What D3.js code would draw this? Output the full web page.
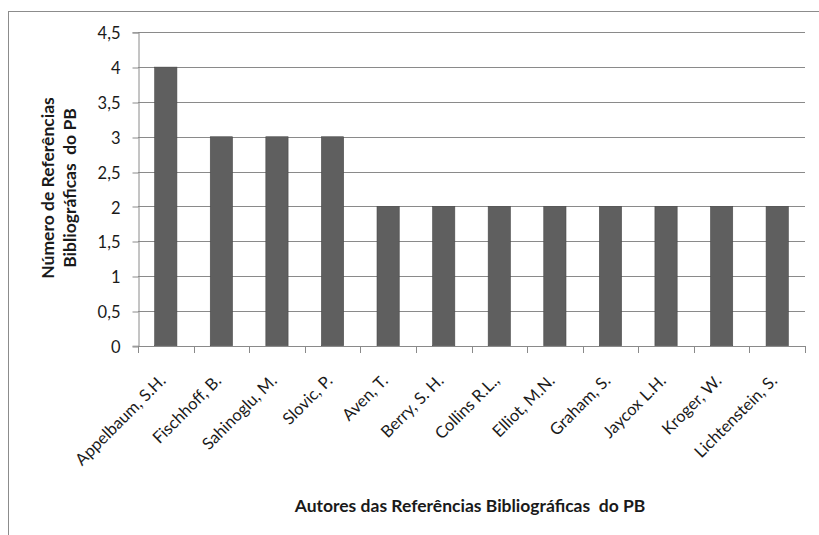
<!DOCTYPE html>
<html>
<head>
<meta charset="utf-8">
<script src="https://cdn.jsdelivr.net/npm/d3@7"></script>
<style>
  html, body { margin: 0; padding: 0; background: #fff; }
  svg { display: block; }
  text { font-family: Lato, "Open Sans", sans-serif; fill: #1a1a1a; white-space: pre; }
</style>
</head>
<body>
<svg id="chart" width="819" height="535"></svg>
<script>
// Authors and their number of bibliographic references
const authors = [
  "Appelbaum, S.H.", "Fischhoff, B.", "Sahinoglu, M.", "Slovic, P.",
  "Aven, T.", "Berry, S. H.", "Collins R.L.,", "Elliot, M.N.",
  "Graham, S.", "Jaycox L.H.", "Kroger, W.", "Lichtenstein, S."
];
const refCounts = [4, 3, 3, 3, 2, 2, 2, 2, 2, 2, 2, 2];
const yTicks = [0, 0.5, 1, 1.5, 2, 2.5, 3, 3.5, 4, 4.5];
const yTitleLines = ["Número de Referências", "Bibliográficas  do PB"];
const xTitle = "Autores das Referências Bibliográficas  do PB";

const svg = d3.select("#chart");
const plot = { left: 138, right: 805, top: 32.3, bottom: 345.7 };
const gridColor = "#8a8a8a";

// chart frame
svg.append("rect")
  .attr("x", 8.5).attr("y", 11.5)
  .attr("width", 900).attr("height", 700)
  .attr("fill", "#fff")
  .attr("stroke", "#8c8c8c").attr("stroke-width", 1);

const x = d3.scaleBand()
  .domain(authors)
  .range([plot.left, plot.right])
  .paddingInner(0.6)
  .paddingOuter(0.3);

const y = d3.scaleLinear()
  .domain([0, 4.5])
  .range([plot.bottom, plot.top]);

const fmt = d => d3.format("")(d).replace(".", ",");

// horizontal gridlines
svg.append("g")
  .selectAll("line")
  .data(yTicks.filter(t => t > 0))
  .join("line")
  .attr("x1", plot.left).attr("x2", plot.right)
  .attr("y1", d => Math.round(y(d)) + 0.5)
  .attr("y2", d => Math.round(y(d)) + 0.5)
  .attr("stroke", gridColor).attr("stroke-width", 1);

// bars
svg.append("g")
  .selectAll("rect")
  .data(authors.map((a, i) => ({ a, v: refCounts[i] })))
  .join("rect")
  .attr("x", d => x(d.a))
  .attr("width", x.bandwidth())
  .attr("y", d => y(d.v))
  .attr("height", d => y(0) - y(d.v))
  .attr("fill", "#5f5f5f")
  .attr("stroke", "#4a4a4a")
  .attr("stroke-width", 0.6);

// y axis
const yAxis = svg.append("g")
  .attr("transform", `translate(${plot.left + 0.5},0)`)
  .call(d3.axisLeft(y).tickValues(yTicks).tickFormat(fmt).tickSize(6).tickPadding(12));
yAxis.select(".domain").attr("stroke", gridColor);
yAxis.selectAll(".tick line").attr("stroke", gridColor)
  .attr("transform", d => `translate(0,${Math.round(y(d)) + 0.5 - y(d)})`);
yAxis.selectAll(".tick text")
  .style("font-size", "16.5px")
  .style("font-family", "Lato, sans-serif")
  .attr("dy", "0.4em")
  .attr("fill", "#1a1a1a");

// x axis with tick marks on category boundaries
const xAxisG = svg.append("g");
xAxisG.append("line")
  .attr("x1", plot.left).attr("x2", plot.right + 0.5)
  .attr("y1", Math.round(plot.bottom) + 0.5).attr("y2", Math.round(plot.bottom) + 0.5)
  .attr("stroke", gridColor);
const bounds = d3.range(authors.length + 1).map(i => plot.left + i * (plot.right - plot.left) / authors.length);
xAxisG.selectAll("line.tick")
  .data(bounds)
  .join("line")
  .attr("class", "tick")
  .attr("x1", d => Math.round(d) + 0.5).attr("x2", d => Math.round(d) + 0.5)
  .attr("y1", Math.round(plot.bottom)).attr("y2", Math.round(plot.bottom) + 7)
  .attr("stroke", gridColor);

// rotated category labels
svg.append("g")
  .selectAll("text")
  .data(authors)
  .join("text")
  .attr("transform", d => `translate(${x(d) + x.bandwidth() / 2 + 1},${plot.bottom + 36}) rotate(-45)`)
  .attr("text-anchor", "end")
  .style("font-size", "16.5px")
  .text(d => d);

// y axis title (two lines, rotated)
const yt = svg.append("text")
  .attr("transform", "translate(54,188) rotate(-90)")
  .attr("text-anchor", "middle")
  .style("font-size", "17.5px")
  .style("font-weight", "700");
yTitleLines.forEach((line, i) => {
  yt.append("tspan").attr("x", 0).attr("dy", i === 0 ? 0 : 22).text(line);
});

// x axis title
svg.append("text")
  .attr("x", 470).attr("y", 512)
  .attr("text-anchor", "middle")
  .style("font-size", "17.5px")
  .style("font-weight", "700")
  .text(xTitle);
</script>
</body>
</html>
